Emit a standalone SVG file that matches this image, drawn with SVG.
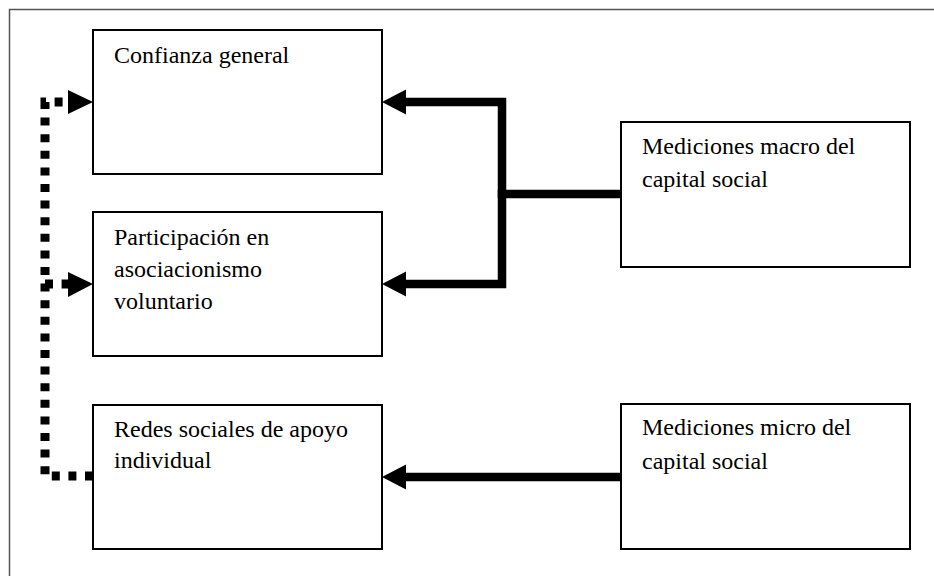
<svg xmlns="http://www.w3.org/2000/svg" width="934" height="576" viewBox="0 0 934 576">
<style>
.box{fill:#fff;stroke:#000;stroke-width:2}
.t{font-family:'Liberation Serif','Times New Roman',Tinos,'DejaVu Serif',serif;font-size:24px;fill:#000}
.solid{fill:none;stroke:#000;stroke-width:8.5}
.dot{fill:none;stroke:#000;stroke-width:9;stroke-dasharray:8 8.6}
</style>
<rect width="934" height="576" fill="#fff"/>
<path d="M9.5,576 V9.5 H934" fill="none" stroke="#555" stroke-width="1.5"/>
<g id="n1"><rect class="box" x="93" y="30" width="289" height="144"/><text class="t" x="114" y="63">Confianza general</text></g>
<g id="n2"><rect class="box" x="93" y="212" width="289" height="144"/><text class="t" x="114" y="245">Participación en</text><text class="t" x="114" y="277">asociacionismo</text><text class="t" x="114" y="309">voluntario</text></g>
<g id="n3"><rect class="box" x="93" y="405" width="289" height="144"/><text class="t" x="114" y="437">Redes sociales de apoyo</text><text class="t" x="114" y="468">individual</text></g>
<g id="n4"><rect class="box" x="621" y="122" width="289" height="145"/><text class="t" x="642" y="154">Mediciones macro del</text><text class="t" x="642" y="187">capital social</text></g>
<g id="n5"><rect class="box" x="621" y="404" width="289" height="145"/><text class="t" x="642" y="435">Mediciones micro del</text><text class="t" x="642" y="469">capital social</text></g>
<g id="connectors">
<path class="solid" d="M621,194 H502"/>
<path class="solid" d="M502,198 V102 H406"/>
<path class="solid" d="M502,190 V284 H406"/>
<path d="M382,102 L406,89.5 L406,114.5 Z" fill="#000"/>
<path d="M382,284 L406,271.5 L406,296.5 Z" fill="#000"/>
<path class="solid" d="M621,477 H406"/>
<path d="M382,477 L406,464.5 L406,489.5 Z" fill="#000"/>
<path class="dot" d="M93,476 H45 V102 H68"/>
<path class="dot" d="M45,284 H68"/>
<path d="M93,102 L68,90 L68,114 Z" fill="#000"/>
<path d="M93,284 L68,272 L68,297 Z" fill="#000"/>
</g>
</svg>
